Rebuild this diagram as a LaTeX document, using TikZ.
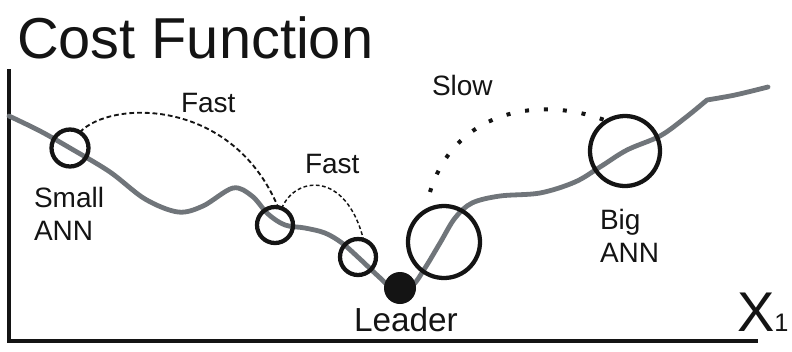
\documentclass[tikz,border=0pt]{standalone}
\usepackage{fontspec}
\setmainfont{Liberation Sans}
\definecolor{curvegray}{RGB}{112,117,122}
\definecolor{inkblack}{RGB}{20,20,20}
\begin{document}
\begin{tikzpicture}[x=0.75pt,y=-0.75pt,
  axisline/.style={line width=2.3pt,draw=inkblack},
  costcurve/.style={line width=3.6pt,draw=curvegray,line cap=round,line join=round},
  ring/.style={circle,draw=inkblack,line width=3.2pt,inner sep=0pt,outer sep=0pt},
  leaderdot/.style={circle,fill=inkblack,inner sep=0pt,outer sep=0pt,minimum size=24pt},
  fastjump/.style={line width=1.4pt,draw=inkblack,dash pattern=on 3.6pt off 2.2pt},
  fastjumpfine/.style={line width=1.1pt,draw=inkblack,dash pattern=on 2.8pt off 1.9pt},
  slowjump/.style={line width=3pt,draw=inkblack,line cap=butt,dash pattern=on 3pt off 11.2pt},
  label/.style={inner sep=0pt,outer sep=0pt,anchor=base west,text=inkblack,font=\fontsize{21pt}{25pt}\selectfont},
]
\useasboundingbox (0,0) rectangle (792,351);

% title
\node[label,font=\fontsize{43.3pt}{48pt}\selectfont] (title) at (17,58) {Cost Function};

% axes
\coordinate (ytop) at (9,69);
\coordinate (origin) at (9,341);
\coordinate (xend) at (758,341);
\draw[axisline,line join=miter] (ytop) -- (origin) -- (xend);
\node[label,font=\fontsize{42pt}{48pt}\selectfont] (xlabel) at (737,331) {X{\fontsize{19pt}{22pt}\selectfont 1}};

% cost curve
\draw[costcurve] plot[smooth,tension=0.55] coordinates {
  (9,116) (40,131) (70,148) (110,172) (145,199) (178,212) (203,206)
  (233,188) (252,196) (268,214) (285,225) (305,228) (325,233) (342,243)
  (360,259) (378,276) (396,291) (412,286) (425,268) (440,243) (455,218)
  (472,203) (500,196) (540,193) (575,182) (600,167) (627,150) (660,136)
  (685,118) (707,100)}
  -- plot[smooth,tension=0.5] coordinates {(707,100) (735,95) (768,87)};

% candidate networks on the curve
\node[ring,minimum size=27.75pt] (small) at (70,148) {};
\node[ring,minimum size=27pt] (midA) at (275,225) {};
\node[ring,minimum size=27pt] (midB) at (358,257) {};
\node[leaderdot] (leader) at (400,288) {};
\node[ring,minimum size=54pt] (bigA) at (444,242) {};
\node[ring,minimum size=52.5pt] (bigB) at (625,151) {};

% jumps between networks
\draw[fastjump] (small.58) .. controls (110,100) and (232,97) .. (midA.80);
\draw[fastjumpfine] (midA.68) .. controls (295,176) and (346,170) .. (midB.72);
\coordinate (slowstart) at (430,192);
\draw[slowjump] (slowstart) .. controls (455,110) and (540,95) .. (bigB.121);

% labels
\node[label] (fast1) at (181,112) {Fast};
\node[label] (fast2) at (305,173) {Fast};
\node[label] (slow) at (432,95) {Slow};
\node[label] (smallA) at (34,207) {Small};
\node[label] (smallB) at (34,240) {ANN};
\node[label] (bigtxtA) at (600,229) {Big};
\node[label] (bigtxtB) at (600,262) {ANN};
\node[label,font=\fontsize{25pt}{30pt}\selectfont] (leadertxt) at (354,331) {Leader};
\end{tikzpicture}
\end{document}
